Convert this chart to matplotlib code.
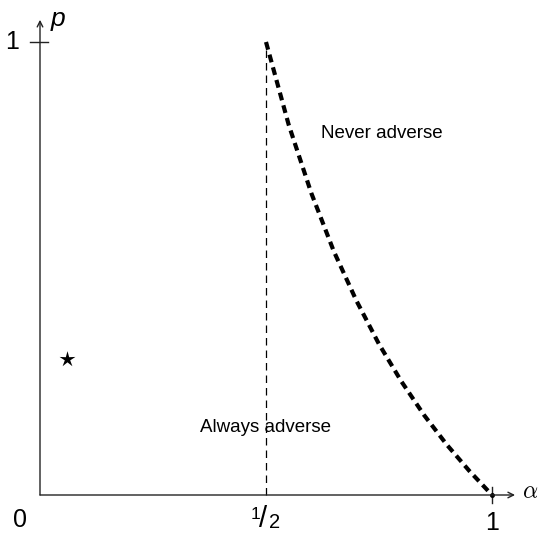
import matplotlib
matplotlib.use("Agg")
import matplotlib.pyplot as plt
import numpy as np
from matplotlib.path import Path

# data
alpha_vals = [0.5, 0.55, 0.6, 0.65, 0.7, 0.75, 0.8, 0.85, 0.9, 0.95, 1.0]
p_vals = [1.0, 0.818, 0.667, 0.538, 0.429, 0.333, 0.25, 0.176, 0.111, 0.053, 0.0]
star_alpha = [0.06]
star_p = [0.30]
boundary_alpha = 0.5
region_labels = ["Never adverse", "Always adverse"]
region_pos = [(0.756, 0.797), (0.5, 0.148)]

plt.rcParams['font.family'] = ['Liberation Sans', 'DejaVu Sans']
plt.rcParams['mathtext.fontset'] = 'cm'

fig = plt.figure(figsize=(5.45, 5.34), dpi=100)
ax = fig.add_axes([0, 0, 1, 1])
ax.set_xlim(-40 / 452, 505 / 452)
ax.set_ylim(-39 / 453, 495 / 453)
ax.axis('off')

axcol = '#222222'
# axes with arrows
ax.annotate('', xy=(1.051, 0), xytext=(0, 0),
            arrowprops=dict(arrowstyle='->', color=axcol, lw=1.0, shrinkA=0, shrinkB=0))
ax.annotate('', xy=(0, 1.049), xytext=(0, 0),
            arrowprops=dict(arrowstyle='->', color=axcol, lw=1.0, shrinkA=0, shrinkB=0))
# ticks
ax.plot([-0.022, 0.018], [1, 1], color=axcol, lw=1.0)
ax.plot([1, 1], [-0.018, 0.018], color=axcol, lw=1.0)

# vertical dashed boundary
ax.plot([boundary_alpha, boundary_alpha], [0, 1], color='black', lw=0.9,
        dashes=(6, 4))
# thick dashed curve
ax.plot(alpha_vals, p_vals, color='black', lw=3.0, dashes=(1.9, 1.25))
ax.plot([1], [0], marker='o', ms=2.5, color='black')

# thin star marker shape
ang = np.pi / 2 + np.arange(10) * np.pi / 5
rad = np.where(np.arange(10) % 2 == 0, 1.0, 0.34)
verts = np.column_stack([rad * np.cos(ang), rad * np.sin(ang)])
verts = np.vstack([verts, verts[:1]])
star = Path(verts, closed=True)
ax.plot(star_alpha, star_p, marker=star, ms=12, color='black', lw=0,
        markeredgewidth=0)

# region labels
for lab, (x, y) in zip(region_labels, region_pos):
    ax.text(x, y, lab, ha='center', va='center', fontsize=13.5)

# tick labels
ax.text(-0.044, -0.055, '0', ha='center', va='center', fontsize=18)
ax.text(1.0, -0.062, '1', ha='center', va='center', fontsize=18)
ax.text(-0.061, 1.0, '1', ha='center', va='center', fontsize=18)
# 1/2 as a nice fraction
ax.text(0.476, -0.043, '1', ha='center', va='center', fontsize=12.5)
ax.text(0.494, -0.052, '/', ha='center', va='center', fontsize=21)
ax.text(0.520, -0.061, '2', ha='center', va='center', fontsize=14.5)
ax.text(0.04, 1.05, 'p', ha='center', va='center', fontsize=19, style='italic')
ax.text(1.084, 0.006, r'$\alpha$', ha='center', va='center', fontsize=17)

fig.savefig('out.png', dpi=100)
